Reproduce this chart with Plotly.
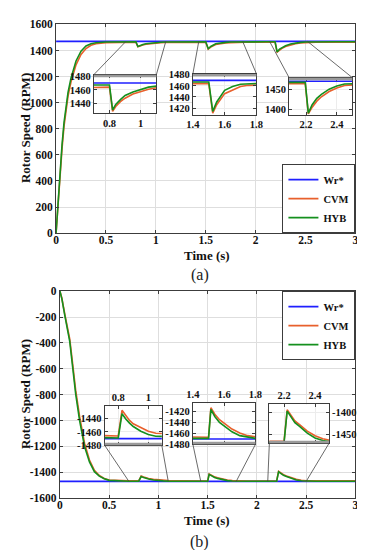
import plotly.graph_objects as go

# ---------------- data ----------------
series_names = ["Wr*", "CVM", "HYB"]
series_colors = ["#1f1fff", "#e8602c", "#14901e"]

# Panel (a): positive speed
t_ref_a = [0.0, 3.0]
wr_a = [1470, 1470]

t_a = [0.00, 0.02, 0.04, 0.06, 0.08, 0.10, 0.12, 0.15, 0.20, 0.25, 0.30, 0.35, 0.40, 0.50,
       0.60, 0.70, 0.80, 0.82, 0.84, 0.87, 0.90, 0.95, 1.00, 1.05, 1.10, 1.20, 1.30, 1.40,
       1.50, 1.525, 1.55, 1.60, 1.65, 1.70, 1.75, 1.80, 1.90, 2.00, 2.10, 2.195, 2.215,
       2.24, 2.27, 2.30, 2.35, 2.40, 2.45, 2.50, 2.60, 2.80, 3.00]
cvm_a = [0, 230, 450, 650, 820, 950, 1050, 1160, 1290, 1370, 1415, 1440, 1452, 1460,
         1463, 1464, 1464, 1429, 1436, 1443, 1448, 1454, 1458, 1461, 1463, 1464, 1464, 1464,
         1464, 1411, 1426, 1446, 1453, 1459, 1461, 1463, 1464, 1464, 1464, 1464, 1388,
         1405, 1420, 1431, 1444, 1453, 1459, 1462, 1464, 1464, 1464]
hyb_a = [0, 250, 480, 680, 850, 980, 1080, 1190, 1320, 1395, 1435, 1452, 1460, 1466,
         1467, 1467, 1467, 1431, 1439, 1446, 1452, 1457, 1461, 1464, 1465.5, 1466.5, 1467, 1467,
         1467, 1414, 1431, 1452, 1459, 1463, 1465, 1466, 1467, 1467, 1467, 1467, 1390,
         1411, 1427, 1437, 1450, 1458, 1463, 1465, 1467, 1467, 1467]

# Panel (b): negative speed
t_ref_b = [0.0, 3.0]
wr_b = [-1470, -1470]

t_b = [0.00, 0.02, 0.05, 0.08, 0.10, 0.13, 0.16, 0.20, 0.25, 0.30, 0.35, 0.40, 0.45, 0.50,
       0.60, 0.70, 0.80, 0.825, 0.85, 0.875, 0.90, 0.95, 1.00, 1.05, 1.10, 1.20, 1.30, 1.40,
       1.50, 1.515, 1.54, 1.57, 1.60, 1.65, 1.70, 1.75, 1.80, 1.90, 2.00, 2.10, 2.20, 2.22,
       2.25, 2.27, 2.30, 2.35, 2.40, 2.45, 2.50, 2.60, 2.80, 3.00]
cvm_b = [0, -55, -180, -285, -370, -565, -765, -970, -1175, -1305, -1385, -1425, -1447, -1459,
         -1465, -1466, -1466, -1428, -1436, -1443, -1448, -1454, -1459, -1462, -1463.5, -1465, -1466, -1467,
         -1467, -1413, -1425, -1435, -1442, -1452, -1459, -1464, -1466, -1467, -1467, -1467, -1467, -1393,
         -1410, -1419, -1428, -1443, -1454, -1461, -1465, -1466, -1466, -1466]
hyb_b = [0, -60, -190, -300, -390, -592, -794, -1000, -1200, -1320, -1395, -1430, -1450, -1462,
         -1468, -1469, -1469, -1433, -1441, -1447, -1452, -1459, -1464, -1466.5, -1468, -1469, -1469, -1469,
         -1469, -1416, -1429, -1440, -1447, -1457, -1464, -1467, -1469, -1469.5, -1469.5, -1469.5, -1469.5, -1396,
         -1414, -1423, -1432, -1448, -1459, -1465, -1468, -1469, -1469, -1469]

# main-axis tick labels
x_ticks = [0, 0.5, 1, 1.5, 2, 2.5, 3]
x_ticktext = ["0", "0.5", "1", "1.5", "2", "2.5", "3"]
y_ticks_a = [0, 200, 400, 600, 800, 1000, 1200, 1400, 1600]
y_ticks_b = [0, -200, -400, -600, -800, -1000, -1200, -1400, -1600]

# inset views: x-range, y-range, x ticks, y ticks
inset_a = [
    dict(xr=[0.70, 1.10], yr=[1426, 1482], xt=[0.8, 1.0], xtt=["0.8", "1"], yt=[1440, 1460, 1480]),
    dict(xr=[1.40, 1.80], yr=[1408, 1482], xt=[1.4, 1.6, 1.8], xtt=["1.4", "1.6", "1.8"], yt=[1420, 1440, 1460, 1480]),
    dict(xr=[2.09, 2.50], yr=[1386, 1479], xt=[2.2, 2.4], xtt=["2.2", "2.4"], yt=[1400, 1450]),
]
inset_b = [
    dict(xr=[0.71, 1.09], yr=[-1480, -1422], xt=[0.8, 1.0], xtt=["0.8", "1"], yt=[-1480, -1460, -1440]),
    dict(xr=[1.40, 1.80], yr=[-1480, -1405], xt=[1.4, 1.6, 1.8], xtt=["1.4", "1.6", "1.8"], yt=[-1480, -1460, -1440, -1420]),
    dict(xr=[2.105, 2.49], yr=[-1472, -1380], xt=[2.2, 2.4], xtt=["2.2", "2.4"], yt=[-1450, -1400]),
]
# zoom source x-positions on main axes
zoom_src_a = [(0.70, 1.10), (1.43, 1.87), (2.14, 2.52)]
zoom_src_b = [(0.70, 1.10), (1.43, 1.79), (2.11, 2.50)]

# ---------------- layout geometry ----------------
W, H = 365, 550
def xd(l, r):
    return [l / W, r / W]
def yd(top, bottom):
    return [1 - bottom / H, 1 - top / H]

def label(v):
    return ("-" if v < 0 else "") + f"{abs(v):g}"

main_a = dict(x=xd(42.7, 354), y=yd(10.7, 224), xr=[0, 3], yr=[0, 1600])
main_b = dict(x=xd(46.7, 354), y=yd(283.3, 495), xr=[0, 3], yr=[-1600, 0])
inset_a_dom = [(xd(82, 147), yd(62, 101.7)), (xd(185, 251), yd(61, 103)), (xd(285, 350.7), yd(65, 103))]
inset_b_dom = [(xd(93.3, 152.7), yd(401, 441)), (xd(185, 250), yd(398, 440)), (xd(264.5, 326.5), yd(399, 439))]

FONT = "Liberation Serif, Times New Roman, Times, serif"
tick_font = dict(family=FONT, size=11.5, color="#111", weight="bold")
inset_font = dict(family=FONT, size=10.5, color="#111", weight="bold")
BOX = "#3c3c3c"
GRID = "#dedede"

fig = go.Figure()
layout = {}

def add_axes(idx, xdom, ydom, xr, yr, xt, xtt, yt, font, grid, xside="bottom", yside="left", xstand=0):
    xa = "xaxis" if idx == 1 else f"xaxis{idx}"
    ya = "yaxis" if idx == 1 else f"yaxis{idx}"
    xn = "x" if idx == 1 else f"x{idx}"
    yn = "y" if idx == 1 else f"y{idx}"
    layout[xa] = dict(domain=xdom, range=xr, anchor=yn, tickvals=xt, ticktext=xtt, side=xside,
                      showgrid=True, gridcolor=grid, gridwidth=1, zeroline=False,
                      showline=True, mirror="ticks", linecolor=BOX, linewidth=1,
                      ticks="inside", ticklen=3, tickcolor=BOX, tickfont=font, fixedrange=True,
                      ticklabelstandoff=xstand)
    layout[ya] = dict(domain=ydom, range=yr, anchor=xn, tickvals=yt, ticktext=[label(v) for v in yt],
                      side=yside, showgrid=True, gridcolor=grid, gridwidth=1, zeroline=False,
                      showline=True, mirror="ticks", linecolor=BOX, linewidth=1,
                      ticks="inside", ticklen=3, tickcolor=BOX, tickfont=font, fixedrange=True)
    return xn, yn

def add_series(xn, yn, tr, legend, show):
    for (t, v), name, col in zip(tr, series_names, series_colors):
        fig.add_trace(go.Scatter(x=t, y=v, mode="lines", name=name, xaxis=xn, yaxis=yn,
                                 line=dict(color=col, width=1.6), showlegend=show, legend=legend))

series_a = [(t_ref_a, wr_a), (t_a, cvm_a), (t_a, hyb_a)]
series_b = [(t_ref_b, wr_b), (t_b, cvm_b), (t_b, hyb_b)]

# main (a)
xn, yn = add_axes(1, main_a["x"], main_a["y"], main_a["xr"], main_a["yr"], x_ticks, x_ticktext,
                  y_ticks_a, tick_font, GRID, xstand=-4)
add_series(xn, yn, series_a, "legend", True)
# main (b)
xn, yn = add_axes(2, main_b["x"], main_b["y"], main_b["xr"], main_b["yr"], x_ticks, x_ticktext,
                  y_ticks_b, tick_font, GRID, xstand=-4)
add_series(xn, yn, series_b, "legend2", True)

shapes = []

def to_paper(dom, rng, v):
    return dom[0] + (v - rng[0]) / (rng[1] - rng[0]) * (dom[1] - dom[0])

idx = 3
for k, (ins, (xdom, ydom)) in enumerate(zip(inset_a, inset_a_dom)):
    xn, yn = add_axes(idx, xdom, ydom, ins["xr"], ins["yr"], ins["xt"], ins["xtt"], ins["yt"],
                      inset_font, "#ececec")
    add_series(xn, yn, series_a, "legend", False)
    idx += 1
    yl = to_paper(main_a["y"], main_a["yr"], wr_a[0])
    for cx, sx in zip(xdom, zoom_src_a[k]):
        shapes.append(dict(type="line", xref="paper", yref="paper", x0=cx, y0=ydom[1],
                           x1=to_paper(main_a["x"], main_a["xr"], sx), y1=yl,
                           line=dict(color="#444", width=0.8), layer="above"))
    # grey band along the inset's top edge
    shapes.append(dict(type="line", xref="paper", yref="paper", x0=xdom[0], x1=xdom[1],
                       y0=ydom[1] - 1.5 / H, y1=ydom[1] - 1.5 / H,
                       line=dict(color="#9a9a9a", width=2.5), layer="above"))

for k, (ins, (xdom, ydom)) in enumerate(zip(inset_b, inset_b_dom)):
    yside = "right" if k == 2 else "left"
    xn, yn = add_axes(idx, xdom, ydom, ins["xr"], ins["yr"], ins["xt"], ins["xtt"], ins["yt"],
                      inset_font, "#ececec", xside="top", yside=yside)
    add_series(xn, yn, series_b, "legend2", False)
    idx += 1
    yl = to_paper(main_b["y"], main_b["yr"], wr_b[0])
    for cx, sx in zip(xdom, zoom_src_b[k]):
        shapes.append(dict(type="line", xref="paper", yref="paper", x0=cx, y0=ydom[0],
                           x1=to_paper(main_b["x"], main_b["xr"], sx), y1=yl,
                           line=dict(color="#444", width=0.8), layer="above"))
    # grey band along the inset's bottom edge
    shapes.append(dict(type="line", xref="paper", yref="paper", x0=xdom[0], x1=xdom[1],
                       y0=ydom[0] + 1.5 / H, y1=ydom[0] + 1.5 / H,
                       line=dict(color="#9a9a9a", width=2.5), layer="above"))

title_font = dict(family=FONT, size=13, color="#111", weight="bold")
def ann(text, x, y, font, angle=0):
    return dict(text=text, x=x / W, y=1 - y / H, xref="paper", yref="paper", xanchor="center",
                yanchor="middle", textangle=angle, showarrow=False, font=font)

lab_font = dict(family=FONT, size=16, color="#222")
annotations = [
    ann("Rotor Speed (RPM)", 11, 117, title_font, -90),
    ann("Time (s)", 200, 247, title_font),
    ann("(a)", 192, 267, lab_font),
    ann("Rotor Speed (RPM)", 11, 389, title_font, -90),
    ann("Time (s)", 200, 518, title_font),
    ann("(b)", 192, 540, lab_font),
]

leg_font = dict(family=FONT, size=10.5, color="#111", weight="bold")
fig.update_layout(
    width=W, height=H, margin=dict(l=0, r=0, t=0, b=0),
    paper_bgcolor="white", plot_bgcolor="white",
    shapes=shapes, annotations=annotations,
    legend=dict(x=354 / W, y=1 - 224 / H, xanchor="right", yanchor="bottom", bgcolor="white",
                bordercolor=BOX, borderwidth=1, font=leg_font, itemwidth=30, tracegroupgap=0),
    legend2=dict(x=354 / W, y=1 - 283.3 / H, xanchor="right", yanchor="top", bgcolor="white",
                 bordercolor=BOX, borderwidth=1, font=leg_font, itemwidth=30, tracegroupgap=0),
    **layout,
)

fig.write_html("out.html")
